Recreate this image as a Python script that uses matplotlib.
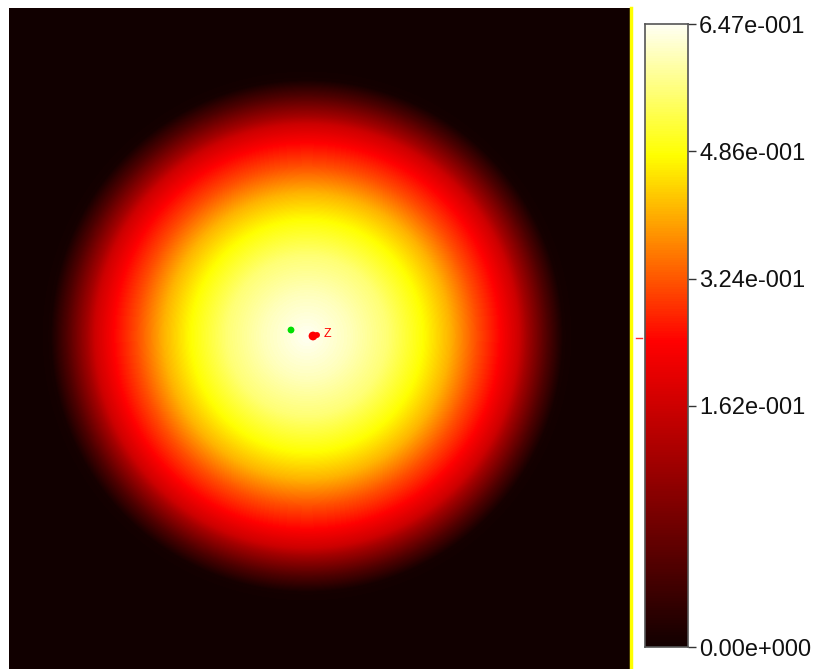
import numpy as np
import matplotlib
matplotlib.use("Agg")
import matplotlib.pyplot as plt
from matplotlib.colors import LinearSegmentedColormap, FuncNorm
from matplotlib.lines import Line2D
from matplotlib.ticker import FuncFormatter, FixedLocator, NullLocator

# ---- data ----
# radial intensity profile (radius in image pixels, value)
profile_radius = [0, 43, 80, 116, 143, 170, 193, 220, 240, 256, 270, 2000]
profile_value = [0.6474, 0.608, 0.560, 0.481, 0.410, 0.315, 0.244, 0.126, 0.054, 0.004, 0.0, 0.0]
center_xy = (298, 328)          # centre of the distribution in image pixels
image_size = (621, 661)         # width, height of the image in pixels
green_point = (282, 322)
red_point = (304, 328)
red_label = "Z"
vmin, vmax = 0.0, 0.6474
cbar_ticks = [0.0, 0.25 * vmax, 0.5 * vmax, 0.75 * vmax, vmax]
# colorbar position (fraction along bar) of each tick as drawn in the reference
cbar_tick_pos = [0.0, 0.387, 0.592, 0.796, 1.0]

# ---- field ----
W, H = image_size
xx, yy = np.meshgrid(np.arange(W) + 0.5, np.arange(H) + 0.5)
rr = np.hypot(xx - center_xy[0], yy - center_xy[1])
field = np.interp(rr, profile_radius, profile_value)

cmap = LinearSegmentedColormap.from_list(
    "hotlike",
    [(0.0, (0.07, 0.0, 0.0)), (0.49, (1.0, 0.0, 0.0)),
     (0.79, (1.0, 1.0, 0.0)), (1.0, (1.0, 1.0, 0.95))])

def fwd(v):
    return np.interp(v, cbar_ticks[:2] + [vmax], [0.0, cbar_tick_pos[1], 1.0])

def inv(t):
    return np.interp(t, [0.0, cbar_tick_pos[1], 1.0], cbar_ticks[:2] + [vmax])

norm = FuncNorm((fwd, inv), vmin=vmin, vmax=vmax)

fig = plt.figure(figsize=(8.16, 6.69), dpi=100)
fig.patch.set_facecolor("white")

FW, FH = 816, 669
ax = fig.add_axes([9 / FW, 0, 621 / FW, 661 / FH])
ax.imshow(field, cmap=cmap, norm=norm, extent=[0, W, H, 0],
          interpolation="bilinear", aspect="auto")
ax.scatter([green_point[0]], [green_point[1]], s=24, color="#00e000",
           edgecolors="none", zorder=3)
ax.scatter([red_point[0]], [red_point[1]], s=40, color="#ff0000",
           edgecolors="none", zorder=3, marker="o")
ax.scatter([red_point[0] + 4], [red_point[1] - 1], s=18, color="#ff0000",
           edgecolors="none", zorder=3)
ax.text(red_point[0] + 11, red_point[1] - 2, red_label, color="#ff0000",
        fontsize=9, family="Liberation Sans", va="center", ha="left")
ax.set_xlim(0, W)
ax.set_ylim(H, 0)
ax.axis("off")

# yellow vertical line at right edge of the image and small red marker
fig.add_artist(Line2D([631 / FW, 631 / FW], [0, 1 - 8 / FH], color="#ffff00",
                      lw=2.5, transform=fig.transFigure))
fig.add_artist(Line2D([636 / FW, 642 / FW], [1 - 338 / FH, 1 - 338 / FH],
                      color="#ff3030", lw=1, transform=fig.transFigure))

# colorbar drawn on an axis whose scale follows the norm
cax = fig.add_axes([645 / FW, 22 / FH, 43 / FW, 623 / FH])
cax.set_yscale("function", functions=(fwd, inv))
edges = inv(np.linspace(0, 1, 513))
cax.pcolormesh([0, 1], edges, edges[:-1, None] * 0.5 + edges[1:, None] * 0.5,
               cmap=cmap, norm=norm, shading="flat")
cax.set_xlim(0, 1)
cax.set_ylim(vmin, vmax)
cax.xaxis.set_visible(False)
cax.yaxis.tick_right()
cax.yaxis.set_major_locator(FixedLocator(cbar_ticks))
cax.yaxis.set_minor_locator(NullLocator())

def fmt(v, pos=None):
    if v == 0:
        return "0.00e+000"
    e = int(np.floor(np.log10(abs(v))))
    m = v / 10 ** e
    return f"{m:.2f}e{'-' if e < 0 else '+'}{abs(e):03d}"

cax.yaxis.set_major_formatter(FuncFormatter(fmt))
for sp in cax.spines.values():
    sp.set_edgecolor("#555555")
    sp.set_linewidth(1.2)
cax.tick_params(axis="y", which="both", left=False, right=True, length=6,
                width=1, color="#333333", pad=2, labelsize=17,
                labelcolor="#111111")
for lab in cax.get_yticklabels():
    lab.set_family("Liberation Sans")

fig.savefig("out.png", dpi=100, facecolor="white")
